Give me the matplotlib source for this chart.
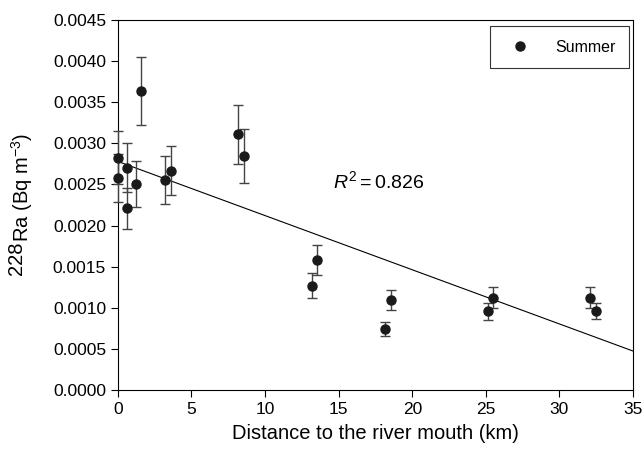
import numpy as np
from matplotlib import pyplot as plt

plt.rcParams['font.family'] = ['Liberation Sans', 'DejaVu Sans']
plt.rcParams['mathtext.fontset'] = 'custom'
plt.rcParams['mathtext.rm'] = 'Liberation Sans'
plt.rcParams['mathtext.it'] = 'Liberation Sans:italic'

# summer samples
distance = [0.0, 0.0, 0.59, 0.59, 1.2, 1.58, 3.19, 3.6, 8.18, 8.59,
            13.18, 13.56, 18.15, 18.56, 25.13, 25.5, 32.1, 32.5]
ra228 = [0.002825, 0.002582, 0.002704, 0.00221, 0.0025, 0.003636, 0.002554, 0.002667, 0.00311, 0.00285,
         0.001269, 0.001581, 0.000746, 0.001095, 0.000957, 0.001123, 0.001123, 0.000961]
ra228_err = [0.00032, 0.00029, 0.0003, 0.00025, 0.00028, 0.00041, 0.00029, 0.0003, 0.00036, 0.00033,
             0.00015, 0.00018, 0.000085, 0.000127, 0.0001, 0.00013, 0.00013, 0.0001]

# linear fit as drawn
fit_intercept = 0.00278
fit_slope = -6.59e-5
r2 = 0.826

x_ticks = [0, 5, 10, 15, 20, 25, 30, 35]
y_ticks = np.arange(0, 0.00451, 0.0005)

W, H = 644, 451
fig = plt.figure(figsize=(W / 100, H / 100), dpi=100)
ax = fig.add_axes([0.183, 0.1353, 0.8, 0.8204])

xf = np.array([0, 35])
ax.plot(xf, fit_intercept + fit_slope * xf, color='black', lw=0.8, zorder=2)

eb = ax.errorbar(distance, ra228, yerr=ra228_err, fmt='none', ecolor='#444444',
                 elinewidth=1.0, capsize=3.6, capthick=1.0, zorder=3)
for a in eb.lines[1] + eb.lines[2]:
    a.set_clip_on(False)
ax.plot(distance, ra228, 'o', color='#1a1a1a', ms=6.5, label='Summer', zorder=4, clip_on=False)

ax.text(14.6, 0.00246, r'$\mathit{R}^2 = %.3f$' % r2, fontsize=14)

ax.set_xlim(0, 35)
ax.set_ylim(0, 0.0045)
ax.set_xticks(x_ticks)
ax.set_yticks(y_ticks)
ax.set_yticklabels(['%.4f' % v for v in y_ticks])
ax.tick_params(direction='out', length=5, width=0.8, labelsize=12.5, top=False, right=False)
for s in ax.spines.values():
    s.set_linewidth(0.8)

ax.set_xlabel('Distance to the river mouth (km)', fontsize=14.5, labelpad=5)

# y label: "228" on the baseline, "Ra" dropped a little, as in the original
lab_fs = 14.5
t1 = fig.text(22 / W, 1 - 275 / H, '228', rotation=90, rotation_mode='anchor',
              ha='left', va='baseline', fontsize=lab_fs)
fig.canvas.draw()
len228 = t1.get_window_extent().height
fig.text(29 / W, 1 - 275 / H + len228 / H, r'Ra (Bq m$^{-3}$)', rotation=90, rotation_mode='anchor',
         ha='left', va='baseline', fontsize=lab_fs)

leg = ax.legend(loc='upper right', bbox_to_anchor=(0.992, 0.983), fancybox=False, edgecolor='black',
                fontsize=11.5, borderpad=0.85, handletextpad=1.2, borderaxespad=0.0)
leg.get_frame().set_linewidth(0.8)

fig.savefig('out.png', dpi=100)
